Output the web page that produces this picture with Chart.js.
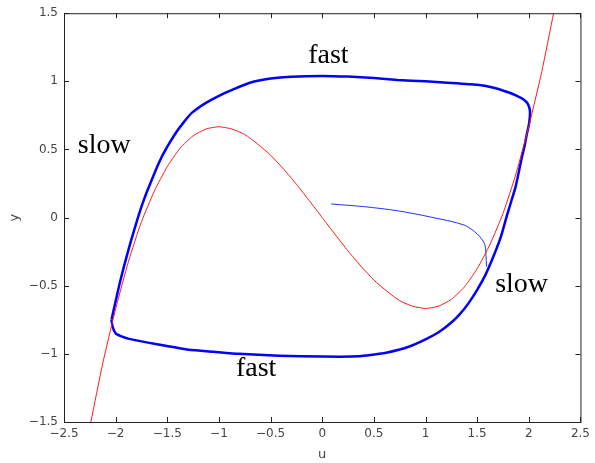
<!DOCTYPE html>
<html>
<head>
<meta charset="utf-8">
<script src="https://cdn.jsdelivr.net/npm/chart.js@4"></script>
<style>
  html, body { margin: 0; padding: 0; background: #fff; }
  #wrap { position: absolute; left: 0; top: 0; width: 595px; height: 463px; }
</style>
</head>
<body>
<div id="wrap"><canvas id="c"></canvas></div>
<script>
// ---- data ----
const xTicks = [-2.5, -2, -1.5, -1, -0.5, 0, 0.5, 1, 1.5, 2, 2.5];
const yTicks = [-1.5, -1, -0.5, 0, 0.5, 1, 1.5];

// red nullcline (u, y)
const nullU = [-2.24, -2.125, -2.0, -1.875, -1.75, -1.625, -1.5, -1.375, -1.25, -1.125, -1.0, -0.875, -0.75, -0.625, -0.5, -0.375, -0.25, -0.125,
               0, 0.125, 0.25, 0.375, 0.5, 0.625, 0.75, 0.875, 1.0, 1.125, 1.25, 1.375, 1.5, 1.625, 1.75, 1.875, 2.0, 2.125, 2.24];
const nullY = [-1.5, -1.07, -0.67, -0.32, -0.03, 0.195, 0.375, 0.51, 0.60, 0.65, 0.667, 0.65, 0.61, 0.54, 0.458, 0.357, 0.245, 0.124,
               0, -0.124, -0.245, -0.357, -0.458, -0.54, -0.61, -0.65, -0.667, -0.65, -0.60, -0.51, -0.375, -0.195, 0.03, 0.32, 0.67, 1.07, 1.5];

// thick blue limit cycle (u, y), clockwise from left corner
const cycleU = [-2.04, -2.02, -1.99, -1.96, -1.92, -1.87, -1.82, -1.77, -1.72, -1.66, -1.58, -1.50, -1.41, -1.33, -1.26, -1.13, -1.0, -0.85, -0.7, -0.5, -0.3, 0, 0.25, 0.5, 0.73, 1.0, 1.21, 1.5, 1.65, 1.8, 1.88, 1.95, 1.99, 2.01,
                2.01, 2.0, 1.98, 1.96, 1.935, 1.91, 1.87, 1.83, 1.79, 1.73, 1.66, 1.58, 1.50, 1.41, 1.33, 1.25, 1.13, 1.01, 0.83, 0.63, 0.45, 0.28, 0, -0.42, -0.81, -1.05, -1.29, -1.6, -1.87, -1.95, -2.0, -2.03, -2.04];
const cycleY = [-0.75, -0.68, -0.58, -0.48, -0.36, -0.22, -0.09, 0.035, 0.145, 0.26, 0.405, 0.52, 0.63, 0.71, 0.77, 0.84, 0.894, 0.945, 0.99, 1.02, 1.034, 1.04, 1.035, 1.025, 1.01, 1.0, 0.99, 0.975, 0.955, 0.92, 0.895, 0.866, 0.835, 0.79,
                0.74, 0.68, 0.61, 0.53, 0.45, 0.36, 0.22, 0.12, 0.02, -0.14, -0.28, -0.42, -0.53, -0.635, -0.71, -0.77, -0.84, -0.89, -0.95, -0.99, -1.01, -1.02, -1.02, -1.013, -1.0, -0.985, -0.97, -0.93, -0.89, -0.87, -0.85, -0.80, -0.75];

// thin blue transient
const transU = [0.087, 0.41, 0.73, 1.05, 1.375, 1.5, 1.57, 1.585, 1.59];
const transY = [0.10, 0.08, 0.05, 0.004, -0.055, -0.12, -0.19, -0.27, -0.36];

// text labels
const labelText = ["fast", "slow", "slow", "fast"];
const labelU = [0.06, -2.11, 1.93, -0.64];
const labelY = [1.19, 0.53, -0.49, -1.11];

function pts(us, ys) {
  return us.map((u, i) => ({ x: u, y: ys[i] }));
}
function fmtTick(v) {
  return String(v).replace("-", "\u2212");
}

// inward ticks on all four sides + box + text labels
const boxTicks = {
  id: "boxTicks",
  afterDraw(chart) {
    const { ctx, chartArea: a, scales } = chart;
    ctx.save();
    ctx.strokeStyle = "#222";
    ctx.lineWidth = 1;
    ctx.strokeRect(a.left + 0.5, a.top + 0.5, a.right - a.left, a.bottom - a.top);
    const len = 5;
    ctx.beginPath();
    xTicks.forEach(v => {
      const px = Math.round(scales.x.getPixelForValue(v)) + 0.5;
      ctx.moveTo(px, a.bottom); ctx.lineTo(px, a.bottom - len);
      ctx.moveTo(px, a.top); ctx.lineTo(px, a.top + len);
    });
    yTicks.forEach(v => {
      const py = Math.round(scales.y.getPixelForValue(v)) + 0.5;
      ctx.moveTo(a.left, py); ctx.lineTo(a.left + len, py);
      ctx.moveTo(a.right, py); ctx.lineTo(a.right - len, py);
    });
    ctx.stroke();

    ctx.fillStyle = "#000";
    ctx.font = "28px 'Liberation Serif', 'Times New Roman', serif";
    ctx.textAlign = "center";
    ctx.textBaseline = "middle";
    labelText.forEach((t, i) => {
      ctx.fillText(t, scales.x.getPixelForValue(labelU[i]), scales.y.getPixelForValue(labelY[i]));
    });
    ctx.restore();
  }
};

const tickFont = { family: "'DejaVu Sans', sans-serif", size: 12 };

new Chart(document.getElementById("c").getContext("2d"), {
  type: "scatter",
  data: {
    datasets: [
      {
        data: pts(nullU, nullY),
        showLine: true,
        borderColor: "#ff1a1a",
        borderWidth: 1,
        pointRadius: 0,
        tension: 0.2
      },
      {
        data: pts(transU, transY),
        showLine: true,
        borderColor: "#2030ff",
        borderWidth: 1,
        pointRadius: 0,
        tension: 0.3
      },
      {
        data: pts(cycleU, cycleY),
        showLine: true,
        borderColor: "#0000ff",
        borderWidth: 2.5,
        pointRadius: 0,
        tension: 0.15
      }
    ]
  },
  options: {
    responsive: true,
    maintainAspectRatio: false,
    animation: false,
    layout: { padding: { top: 10, right: 11, left: 0, bottom: 0 } },
    plugins: { legend: { display: false }, tooltip: { enabled: false } },
    scales: {
      x: {
        type: "linear",
        min: -2.5, max: 2.5,
        afterBuildTicks: s => { s.ticks = xTicks.map(v => ({ value: v })); },
        afterFit: s => { s.height = 41; },
        grid: { display: false, drawTicks: false },
        border: { display: false },
        ticks: { color: "#444", font: tickFont, padding: 5, maxRotation: 0, callback: fmtTick },
        title: { display: true, text: "u", color: "#444", font: { family: "'DejaVu Sans', sans-serif", size: 13 }, padding: { top: 0, bottom: 1 } }
      },
      y: {
        type: "linear",
        min: -1.5, max: 1.5,
        afterBuildTicks: s => { s.ticks = yTicks.map(v => ({ value: v })); },
        afterFit: s => { s.width = 64; },
        grid: { display: false, drawTicks: false },
        border: { display: false },
        ticks: { color: "#444", font: tickFont, padding: 6, callback: fmtTick },
        title: { display: true, text: "y", color: "#444", font: { family: "'DejaVu Sans', sans-serif", size: 13 }, padding: { top: 7, bottom: 0 } }
      }
    }
  },
  plugins: [boxTicks]
});
</script>
</body>
</html>
